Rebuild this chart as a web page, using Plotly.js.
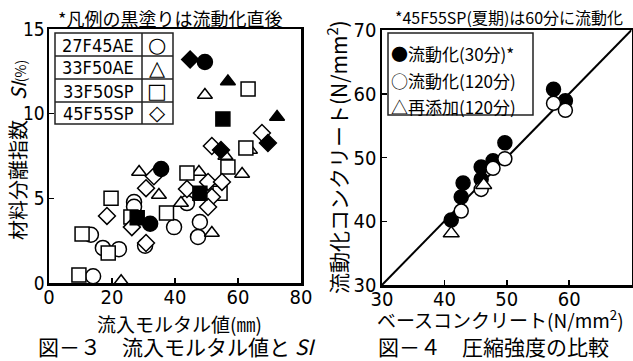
<!DOCTYPE html>
<html><head><meta charset="utf-8">
<script src="https://cdn.plot.ly/plotly-3.0.1.min.js"></script>
<style>html,body{margin:0;padding:0;background:#fff}#c{width:633px;height:361px}</style>
</head><body><div id="c"></div>
<script>
// ---- Figure 3 data: inflow mortal value (mm) vs SI (%) ----
const circOpenX = [14.0, 13.3, 17.1, 22.2, 27.0, 27.0, 30.5, 39.7, 43.8, 47.9, 47.3];
const circOpenY = [0.4, 2.85, 2.07, 2.0, 4.78, 4.5, 2.2, 3.3, 4.72, 3.6, 2.72];
const circFillX = [35.6, 32.1, 49.5];
const circFillY = [6.73, 3.5, 13.05];
const triOpenX = [22.9, 28.6, 34.9, 41.9, 47.6, 61.3, 51.7, 49.5, 63.8, 56.0];
const triOpenY = [0.1, 6.56, 5.2, 4.72, 6.56, 6.44, 2.95, 11.1, 7.86, 7.5];
const triFillX = [56.8, 72.4];
const triFillY = [11.9, 9.8];
const sqOpenX = [9.5, 10.5, 18.8, 19.7, 26.0, 37.3, 43.8, 56.8, 54.3, 63.2, 62.5];
const sqOpenY = [0.47, 2.9, 1.77, 5.0, 3.9, 4.13, 6.5, 6.85, 5.3, 11.46, 7.97];
const sqFillX = [28.0, 47.9, 55.2];
const sqFillY = [3.85, 5.3, 9.69];
const diaOpenX = [18.4, 26.3, 30.8, 33.3, 30.8, 50.5, 54.9, 43.8, 51.7, 50.5, 67.6, 51.7];
const diaOpenY = [3.96, 3.3, 2.36, 6.3, 5.6, 5.97, 5.97, 5.55, 5.08, 4.49, 8.86, 8.09];
const diaFillX = [44.8, 69.5, 54.6];
const diaFillY = [13.2, 8.27, 7.86];
const legendNames = ['27F45AE', '33F50AE', '33F50SP', '45F55SP'];
const legendSyms = ['○', '△', '□', '◇'];

// ---- Figure 4 data: base concrete vs fluidized concrete strength (N/mm2) ----
const f30X = [57.5, 59.4, 49.7, 45.9, 47.8, 43.0, 42.7, 41.1, 45.9];
const f30Y = [60.7, 58.9, 52.3, 48.5, 49.5, 46.0, 43.8, 40.2, 46.6];
const f120X = [57.5, 59.4, 49.7, 47.8, 45.9, 42.7];
const f120Y = [58.5, 57.4, 49.8, 48.3, 45.0, 41.6];
const readdX = [46.3, 41.1];
const readdY = [45.7, 38.1];
const lineXY = [30, 70];
const legend2 = ['●流動化(30分)*', '○流動化(120分)', '△再添加(120分)'];

const W = 633, H = 361;
const px = x => x / W, py = y => 1 - y / H;
const JP = 'Noto Sans CJK JP, sans-serif';
const NAR = 'Liberation Sans Narrow, Arial Narrow, DejaVu Sans Condensed, Liberation Sans, sans-serif';
const SYM = 'DejaVu Sans, Noto Sans CJK JP, sans-serif';

function mk(x, y, sym, filled, size, xa, ya) {
  return {x, y, type: 'scatter', mode: 'markers', xaxis: xa, yaxis: ya, cliponaxis: false,
    showlegend: false, hoverinfo: 'skip',
    marker: {symbol: sym, size, color: filled ? '#000' : '#fff', line: {color: '#000', width: 1.5}}};
}

const traces = [
  mk(circOpenX, circOpenY, 'circle', false, 15, 'x', 'y'),
  mk(triOpenX, triOpenY, 'triangle-up', false, 13, 'x', 'y'),
  mk(sqOpenX, sqOpenY, 'square', false, 14, 'x', 'y'),
  mk(diaOpenX, diaOpenY, 'diamond', false, 13, 'x', 'y'),
  mk(circFillX, circFillY, 'circle', true, 15, 'x', 'y'),
  mk(triFillX, triFillY, 'triangle-up', true, 13, 'x', 'y'),
  mk(sqFillX, sqFillY, 'square', true, 14, 'x', 'y'),
  mk(diaFillX, diaFillY, 'diamond', true, 13, 'x', 'y'),
  {x: lineXY, y: lineXY, type: 'scatter', mode: 'lines', xaxis: 'x2', yaxis: 'y2', showlegend: false,
   hoverinfo: 'skip', line: {color: '#000', width: 2}},
  mk(f30X, f30Y, 'circle', true, 14, 'x2', 'y2'),
  mk(f120X, f120Y, 'circle', false, 14, 'x2', 'y2'),
  mk(readdX, readdY, 'triangle-up', false, 14, 'x2', 'y2'),
];

const axBase = {showgrid: false, zeroline: false, showline: true, mirror: true, linecolor: '#000',
  linewidth: 2.5, ticks: 'inside', ticklen: 5, tickwidth: 1.5, tickcolor: '#000', fixedrange: true};

const layout = {
  width: W, height: H, margin: {l: 0, r: 0, t: 0, b: 0}, paper_bgcolor: '#fff', plot_bgcolor: '#fff',
  showlegend: false,
  xaxis: Object.assign({}, axBase, {domain: [px(49), px(301)], range: [0, 80], tickvals: [0, 20, 40, 60, 80],
    anchor: 'y', ticklabelstandoff: -6, tickfont: {family: NAR, size: 20, color: '#000'}}),
  yaxis: Object.assign({}, axBase, {domain: [py(283), py(29)], range: [0, 15], tickvals: [0, 5, 10, 15],
    anchor: 'x', ticklabelstandoff: -2, tickfont: {family: NAR, size: 19, color: '#000'}}),
  xaxis2: Object.assign({}, axBase, {domain: [px(382), px(631.5)], range: [30, 70], tickvals: [30, 40, 50, 60, 70],
    anchor: 'y2', ticklabelstandoff: -6, tickfont: {family: NAR, size: 20, color: '#000'}}),
  yaxis2: Object.assign({}, axBase, {domain: [py(285), py(30)], range: [30, 70], tickvals: [30, 40, 50, 60, 70],
    anchor: 'x2', ticklabelstandoff: -1, tickfont: {family: NAR, size: 20, color: '#000'}}),
  shapes: [],
  annotations: []
};

function ann(text, x, y, size, extra) {
  layout.annotations.push(Object.assign({text, x: px(x), y: py(y), xref: 'paper', yref: 'paper',
    showarrow: false, xanchor: 'center', yanchor: 'middle', font: {family: JP, size, color: '#000'}}, extra || {}));
}
function line(x0, y0, x1, y1, w) {
  layout.shapes.push({type: 'line', xref: 'paper', yref: 'paper', x0: px(x0), y0: py(y0), x1: px(x1), y1: py(y1),
    line: {color: '#222', width: w || 1.5}});
}

// Figure 3 texts
ann('*凡例の黒塗りは流動化直後', 170, 18, 18);
ann('流入モルタル値(㎜)', 179, 323, 19);
ann('図－３　流入モルタル値と <i>SI</i>', 176, 346, 21);
ann('材料分離指数　<i>SI</i><span style="font-size:14px">(%)</span>', 17, 150, 20, {textangle: -90});
// Figure 3 legend table
layout.shapes.push({type: 'rect', xref: 'paper', yref: 'paper', x0: px(55), x1: px(173), y0: py(33), y1: py(124),
  line: {color: '#222', width: 1.5}, fillcolor: '#fff'});
line(142, 33, 142, 124);
[56, 79, 102].forEach(y => line(55, y, 173, y));
const rowY = [45, 68, 91, 113];
legendNames.forEach((n, i) => ann(n, 98, rowY[i], 18, {font: {family: NAR, size: 18, color: '#000'}}));
legendSyms.forEach((s, i) => ann(s, 157, rowY[i], 21, {font: {family: SYM, size: 21, color: '#000'}}));

// Figure 4 texts
ann('*45F55SP(夏期)は60分に流動化', 509, 17, 16);
ann('流動化コンクリート(N/mm<sup>2</sup>)', 337, 157, 21, {textangle: -90});
ann('ベースコンクリート(N/mm<sup>2</sup>)', 500, 319, 19);
ann('図－４　圧縮強度の比較', 493, 346, 21);
layout.shapes.push({type: 'rect', xref: 'paper', yref: 'paper', x0: px(388), x1: px(533), y0: py(33), y1: py(115),
  line: {color: '#222', width: 1.5}, fillcolor: '#fff'});
const row2Y = [53, 80, 106];
legend2.forEach((t, i) => ann(t, 389, row2Y[i], 17, {xanchor: 'left'}));

Plotly.newPlot('c', traces, layout, {staticPlot: true});
</script></body></html>
